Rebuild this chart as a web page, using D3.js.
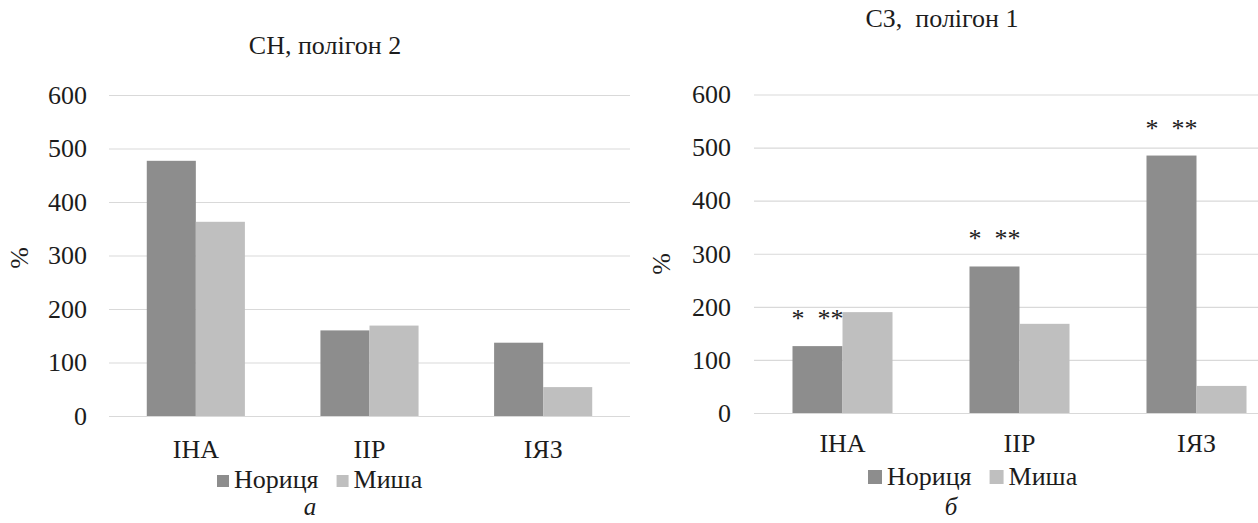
<!DOCTYPE html>
<html>
<head>
<meta charset="utf-8">
<script src="https://cdn.jsdelivr.net/npm/d3@7"></script>
<style>
  html, body { margin: 0; padding: 0; background: #fff; }
  svg { display: block; }
  svg text { font-family: "Liberation Serif", "Tinos", "Times New Roman", "DejaVu Serif", serif; }
</style>
</head>
<body>
<svg id="chart" width="1258" height="523"></svg>
<script>
// Categories, series and tick values
const categories = ["ІНА", "ІІР", "ІЯЗ"];
const seriesNames = ["Нориця", "Миша"];
const yTicks = [0, 100, 200, 300, 400, 500, 600];

// Panel "а": СН, полігон 2
const snNorytsia = [477, 160, 137];
const snMysha = [363, 169, 54];

// Panel "б": СЗ, полігон 1
const szNorytsia = [126, 276, 485];
const szMysha = [190, 168, 51];
const szMarks = ["*  **", "*  **", "*  **"];

const colors = { "Нориця": "#8d8d8d", "Миша": "#bfbfbf" };
const textColor = "#1c1c1c";
const gridColor = "#d9d9d9";
const serif = '"Liberation Serif", "Tinos", "Times New Roman", "DejaVu Serif", serif';

const svg = d3.select("#chart");

function label(sel, size) {
  return sel.attr("fill", textColor).attr("font-family", serif).style("font-family", serif).style("font-size", size + "px");
}

function drawPanel(p) {
  const g = svg.append("g");
  const rows = categories.map((c, i) => ({
    cat: c,
    values: [
      { key: seriesNames[0], value: p.series[0][i] },
      { key: seriesNames[1], value: p.series[1][i] }
    ],
    mark: p.marks ? p.marks[i] : null
  }));

  const y = d3.scaleLinear().domain([0, 600]).range([p.y0, p.y600]);
  const x0 = d3.scaleBand().domain(categories).range([p.left, p.right]).padding(0);
  const groupW = x0.bandwidth() * 0.565;
  const x1 = d3.scaleBand().domain(seriesNames).range([0, groupW]).padding(0);

  // value gridlines and tick labels
  const yAxis = d3.axisLeft(y).tickValues(yTicks).tickSize(-(p.right - p.left)).tickPadding(p.tickPad).tickFormat(d3.format("d"));
  const ya = g.append("g").attr("transform", `translate(${p.left},0)`).call(yAxis);
  ya.attr("font-family", serif);
  ya.select(".domain").remove();
  ya.selectAll(".tick line").attr("stroke", gridColor).attr("stroke-width", 1.2);
  label(ya.selectAll(".tick text"), 26);

  // bars
  const grp = g.selectAll(".grp").data(rows).join("g")
    .attr("transform", d => `translate(${x0(d.cat) + (x0.bandwidth() - groupW) / 2},0)`);
  grp.selectAll("rect").data(d => d.values).join("rect")
    .attr("x", d => x1(d.key))
    .attr("width", x1.bandwidth())
    .attr("y", d => y(d.value))
    .attr("height", d => y(0) - y(d.value))
    .attr("fill", d => colors[d.key]);

  // significance marks over the first series
  if (p.marks) {
    label(grp.append("text"), 26)
      .attr("x", x1(seriesNames[0]) + x1.bandwidth() / 2)
      .attr("y", d => y(d.values[0].value) - 19)
      .attr("text-anchor", "middle")
      .style("white-space", "pre")
      .text(d => d.mark);
  }

  // category axis
  const xAxis = d3.axisBottom(x0).tickSize(0).tickPadding(p.catPad);
  const xa = g.append("g").attr("transform", `translate(0,${p.y0})`).call(xAxis);
  xa.attr("font-family", serif);
  xa.select(".domain").remove();
  label(xa.selectAll(".tick text"), 26);

  // title
  label(g.append("text"), 26).attr("x", p.titleX).attr("y", p.titleY).attr("text-anchor", "middle")
    .style("white-space", "pre").text(p.title);

  // axis title
  label(g.append("text"), 26).attr("transform", `translate(${p.pctX},${p.pctY}) rotate(-90)`)
    .attr("text-anchor", "middle").text("%");

  // legend
  const lg = g.append("g").attr("transform", `translate(${p.legX},${p.legY})`);
  let lx = 0;
  seriesNames.forEach(s => {
    lg.append("rect").attr("x", lx).attr("y", -p.sq - 1).attr("width", p.sq).attr("height", p.sq).attr("fill", colors[s]);
    const t = label(lg.append("text"), 26).attr("x", lx + p.sq + 5).attr("y", 0).text(s);
    lx += p.sq + 5 + t.node().getComputedTextLength() + 18;
  });

  // panel letter
  label(g.append("text"), 25).attr("x", p.letterX).attr("y", p.letterY).attr("text-anchor", "middle")
    .style("font-style", "italic").text(p.letter);
}

drawPanel({
  series: [snNorytsia, snMysha], marks: null,
  left: 109, right: 630, y0: 416, y600: 95, tickPad: 22, catPad: 24,
  title: "СН, полігон 2", titleX: 325, titleY: 54,
  pctX: 28, pctY: 258,
  legX: 217, legY: 488, sq: 12,
  letter: "а", letterX: 310, letterY: 515
});

drawPanel({
  series: [szNorytsia, szMysha], marks: szMarks,
  left: 754, right: 1285, y0: 413, y600: 94.5, tickPad: 23, catPad: 21,
  title: "СЗ,  полігон 1", titleX: 942, titleY: 27,
  pctX: 670, pctY: 264,
  legX: 868, legY: 485, sq: 14,
  letter: "б", letterX: 951, letterY: 515
});
</script>
</body>
</html>
